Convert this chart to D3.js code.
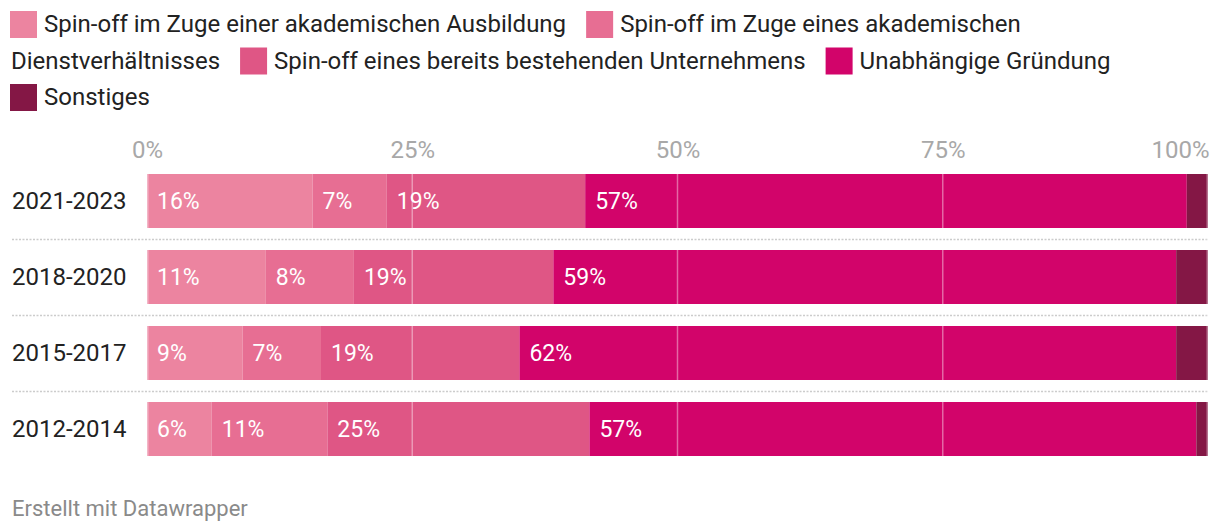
<!DOCTYPE html>
<html>
<head>
<meta charset="utf-8">
<script src="https://cdn.jsdelivr.net/npm/d3@7"></script>
<style>
    body { margin: 0; background: #fff; }
</style>
</head>
<body>
<script>
// rows
const categories = ["2021-2023", "2018-2020", "2015-2017", "2012-2014"];

// series names + colours
const seriesNames = [
    "Spin-off im Zuge einer akademischen Ausbildung",
    "Spin-off im Zuge eines akademischen Dienstverhältnisses",
    "Spin-off eines bereits bestehenden Unternehmens",
    "Unabhängige Gründung",
    "Sonstiges"
];
const seriesColors = ["#ec84a0", "#e76e93", "#df5685", "#d2046a", "#841745"];

// values in %
const ausbildung = [15.6, 11.2, 9.0, 6.1];
const dienst = [7.0, 8.3, 7.4, 10.9];
const bestehend = [18.7, 18.8, 18.7, 24.7];
const unabhaengig = [56.7, 58.7, 61.9, 57.2];
const sonstiges = [2.0, 3.0, 3.0, 1.1];

const ticks = [0, 25, 50, 75, 100];

const seriesValues = [ausbildung, dienst, bestehend, unabhaengig, sonstiges];

// table for d3.stack
const table = categories.map(function (c, i) {
    let row = {cat: c};
    seriesNames.forEach(function (s, j) { row[s] = seriesValues[j][i]; });
    return row;
});

const W = 1220, H = 532;
const svg = d3.select("body").append("svg")
    .attr("width", W)
    .attr("height", H)
    .style("font-family", "Roboto, sans-serif");

// ---- legend, flowed + wrapped like the original html legend
const lg = svg.append("g").style("font-size", "24px").attr("fill", "#222");
const probe = lg.append("text");
function tw(s) { probe.text(s); return probe.node().getComputedTextLength(); }
const spaceW = tw("a a") - tw("aa");

const lgLeft = 10, lgRight = 1212, lineH = 36.5, firstLine = 24;
let cx = lgLeft, line = 0;
seriesNames.forEach(function (s, j) {
    let words = s.split(" ");
    // swatch + first word must fit together
    if (cx > lgLeft && cx + 34 + tw(words[0]) > lgRight) { cx = lgLeft; line++; }
    lg.append("rect")
        .attr("x", cx).attr("y", firstLine + line * lineH - 13)
        .attr("width", 27).attr("height", 27)
        .attr("fill", seriesColors[j]);
    cx += 34;
    let run = [], runX = cx;
    function flush() {
        if (!run.length) return;
        lg.append("text").attr("x", runX).attr("y", firstLine + line * lineH)
            .attr("dy", "0.35em").text(run.join(" "));
        run = [];
    }
    words.forEach(function (w, k) {
        let ww = tw(w);
        if (k > 0 && cx + spaceW + ww > lgRight) {
            flush();
            line++;
            cx = lgLeft + 1;
            runX = cx;
        } else if (k > 0) {
            cx += spaceW;
        }
        run.push(w);
        cx += ww;
    });
    flush();
    cx += 20;
});
probe.remove();

// ---- chart
const x = d3.scaleLinear().domain([0, 100]).range([147, 1208]);
const y = d3.scaleBand().domain(categories).range([163, 467])
    .paddingInner(22 / 76).paddingOuter(11 / 76);

// axis on top
const axis = svg.append("g")
    .attr("transform", "translate(0,158)")
    .call(d3.axisTop(x).tickValues(ticks).tickSize(0).tickFormat(d => d + "%"));
axis.select(".domain").remove();
axis.selectAll("text")
    .attr("y", 0).attr("dy", 0)
    .attr("fill", "#a8a8a8")
    .style("font-size", "24px")
    .style("font-family", "Roboto, sans-serif")
    .attr("text-anchor", d => d == 100 ? "end" : "middle")
    .attr("x", d => d == 100 ? 1 : 0);

// dotted separators between rows
svg.selectAll(".sep")
    .data(categories.slice(0, -1))
    .enter().append("line")
    .attr("x1", 12).attr("x2", 1208)
    .attr("y1", d => y(d) + y.bandwidth() + 11.5)
    .attr("y2", d => y(d) + y.bandwidth() + 11.5)
    .attr("stroke", "#cccccc")
    .attr("stroke-width", 1.5)
    .attr("stroke-dasharray", "2,1.5");

// row labels
svg.selectAll(".rowlab")
    .data(categories)
    .enter().append("text")
    .attr("x", 12)
    .attr("y", d => y(d) + y.bandwidth() / 2)
    .attr("dy", "0.35em")
    .attr("fill", "#222")
    .style("font-size", "24px")
    .text(d => d);

const stacked = d3.stack().keys(seriesNames)(table);

const layer = svg.selectAll(".layer")
    .data(stacked)
    .enter().append("g")
    .attr("fill", (d, i) => seriesColors[i]);

layer.selectAll("rect")
    .data(d => d)
    .enter().append("rect")
    .attr("x", d => x(d[0]))
    .attr("y", d => y(d.data.cat))
    .attr("width", d => x(d[1]) - x(d[0]))
    .attr("height", y.bandwidth());

// grid lines on top of the bars
svg.selectAll(".grid")
    .data(ticks)
    .enter().append("line")
    .attr("x1", d => x(d) + (d == 0 ? 0.75 : d == 100 ? -0.75 : 0))
    .attr("x2", d => x(d) + (d == 0 ? 0.75 : d == 100 ? -0.75 : 0))
    .attr("y1", y.range()[0]).attr("y2", y.range()[1])
    .attr("stroke", "#fff")
    .attr("stroke-opacity", 0.4)
    .attr("stroke-width", 1.5);

// value labels
layer.selectAll(".val")
    .data(d => d)
    .enter().append("text")
    .attr("x", d => x(d[0]) + 10)
    .attr("y", d => y(d.data.cat) + y.bandwidth() / 2)
    .attr("dy", "0.35em")
    .attr("fill", "#fff")
    .style("font-size", "23px")
    .text(d => Math.round(d[1] - d[0]) + "%")
    .each(function (d) {
        let w = this.getComputedTextLength();
        if (w + 14 > x(d[1]) - x(d[0])) d3.select(this).remove();
    });

// footer
svg.append("text")
    .attr("x", 12).attr("y", 508)
    .attr("dy", "0.35em")
    .attr("fill", "#8a8a8a")
    .style("font-size", "22px")
    .text("Erstellt mit Datawrapper");
</script>
</body>
</html>
